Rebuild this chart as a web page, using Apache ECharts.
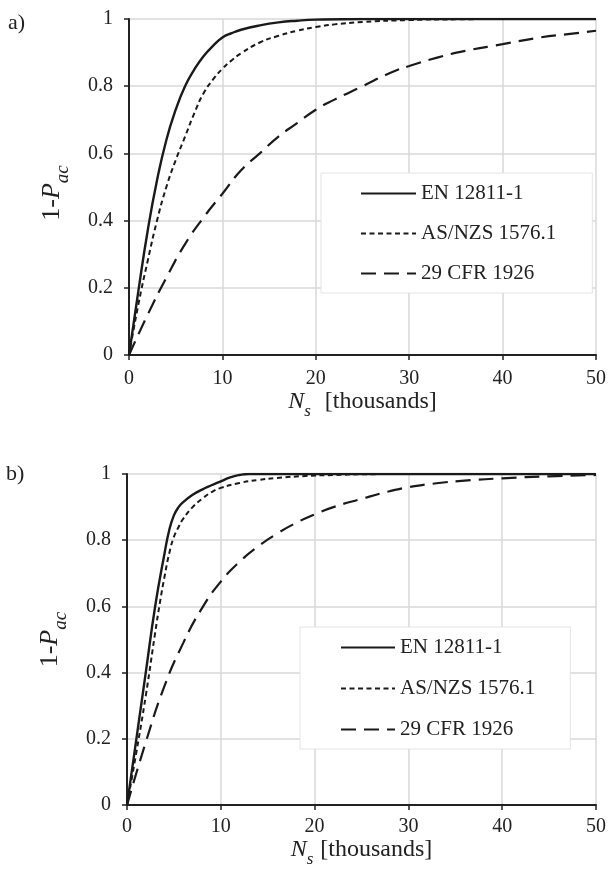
<!DOCTYPE html>
<html>
<head>
<meta charset="utf-8">
<script src="https://cdn.jsdelivr.net/npm/echarts@6/dist/echarts.min.js"></script>
<style>
  html, body { margin: 0; padding: 0; background: #fff; }
  #chart { width: 609px; height: 869px; }
</style>
</head>
<body>
<div id="chart"></div>
<script>
// series names, shared by both panels
var names = ['EN 12811-1', 'AS/NZS 1576.1', '29 CFR 1926'];

// panel a) - [N_s (thousands), 1-P_ac]
var enA = [[0, 0], [1, 0.19], [2, 0.37], [3, 0.52], [4, 0.64], [5, 0.73], [6, 0.8], [7, 0.85],
  [8, 0.89], [9, 0.92], [10, 0.945], [11, 0.958], [12, 0.968], [14, 0.981], [16, 0.99],
  [18, 0.995], [20, 0.998], [25, 1], [50, 1]];
var asA = [[0, 0], [1, 0.15], [2, 0.28], [3, 0.4], [4, 0.5], [5, 0.58], [6, 0.65], [7, 0.72],
  [8, 0.78], [9, 0.82], [10, 0.852], [11, 0.877], [12, 0.898], [14, 0.93], [16, 0.95],
  [18, 0.965], [20, 0.976], [22, 0.984], [25, 0.991], [30, 0.997], [35, 0.999], [40, 1], [50, 1]];
var cfrA = [[0, 0], [2, 0.12], [4, 0.23], [6, 0.33], [8, 0.41], [10, 0.48], [12, 0.55], [14, 0.6],
  [16, 0.65], [18, 0.69], [20, 0.73], [22, 0.76], [25, 0.8], [28, 0.84], [30, 0.86],
  [33, 0.885], [36, 0.905], [40, 0.925], [44, 0.945], [47, 0.955], [50, 0.965]];

// panel b)
var enB = [[0, 0], [1, 0.2], [2, 0.4], [3, 0.6], [4, 0.76], [4.5, 0.83], [5, 0.875], [5.5, 0.9],
  [6, 0.915], [7, 0.937], [8, 0.953], [9, 0.966], [10, 0.978], [11, 0.99], [12, 0.997],
  [13, 1], [50, 1]];
var asB = [[0, 0], [1, 0.16], [2, 0.33], [3, 0.52], [3.5, 0.61], [4, 0.69], [4.5, 0.76], [5, 0.81],
  [5.5, 0.84], [6, 0.865], [7, 0.9], [8, 0.925], [9, 0.945], [10, 0.958], [12, 0.973],
  [14, 0.982], [16, 0.988], [19, 0.994], [22, 0.997], [25, 0.999], [30, 1], [50, 1]];
var cfrB = [[0, 0], [2, 0.19], [4, 0.36], [6, 0.49], [8, 0.595], [10, 0.675], [12, 0.735],
  [14, 0.782], [16, 0.82], [18, 0.852], [20, 0.878], [22, 0.9], [25, 0.925], [28, 0.948],
  [30, 0.96], [33, 0.972], [36, 0.98], [40, 0.987], [45, 0.993], [50, 0.997]];

var FONT = "'Liberation Serif', 'Times New Roman', serif";
var INK = '#222';

var styles = [
  {width: 2.4, type: 'solid'},
  {width: 2, type: [5, 3.5]},
  {width: 2.2, type: [15, 8]}
];

function xAxis(gridIndex, gap, margin, space) {
  return {
    type: 'value', gridIndex: gridIndex, min: 0, max: 50, interval: 10,
    name: '{i|N}{s|s}{t|[thousands]}',
    nameLocation: 'middle', nameGap: gap,
    nameTextStyle: {
      rich: {
        i: {fontFamily: FONT, fontSize: 24, fontStyle: 'italic', color: INK, verticalAlign: 'bottom', padding: [0, 0, 6, 0]},
        s: {fontFamily: FONT, fontSize: 17, fontStyle: 'italic', color: INK, verticalAlign: 'bottom', padding: [0, space, 0, 0]},
        t: {fontFamily: FONT, fontSize: 24, color: INK, verticalAlign: 'bottom', padding: [0, 0, 6, 0]}
      }
    },
    axisLine: {lineStyle: {color: INK, width: 2}},
    axisTick: {show: true, length: 5, lineStyle: {color: INK, width: 1.5}},
    axisLabel: {fontFamily: FONT, fontSize: 20, color: INK, margin: margin},
    splitLine: {show: true, lineStyle: {color: '#d9d9d9', width: 1.5}}
  };
}

function yAxis(gridIndex, gap, shift) {
  return {
    type: 'value', gridIndex: gridIndex, min: 0, max: 1, interval: 0.2,
    name: '{t|1-}{i|P}{s|ac}',
    nameLocation: 'middle', nameGap: gap, nameRotate: 90,
    nameTextStyle: {
      rich: {
        t: {fontFamily: FONT, fontSize: 26, color: INK, verticalAlign: 'bottom', padding: [0, 0, 7, 0]},
        i: {fontFamily: FONT, fontSize: 26, fontStyle: 'italic', color: INK, verticalAlign: 'bottom', padding: [0, 0, 7, 0]},
        s: {fontFamily: FONT, fontSize: 19, fontStyle: 'italic', color: INK, verticalAlign: 'bottom', padding: [0, shift, 0, 0]}
      }
    },
    axisLine: {show: true, lineStyle: {color: INK, width: 2}},
    axisTick: {show: true, length: 5, lineStyle: {color: INK, width: 1.5}},
    axisLabel: {fontFamily: FONT, fontSize: 20, color: INK, margin: 16},
    splitLine: {show: true, lineStyle: {color: '#d9d9d9', width: 1.5}}
  };
}

function legend(left, top, iconW, gap, pad) {
  return {
    orient: 'vertical', left: left, top: top,
    data: names,
    itemWidth: iconW, itemHeight: 20, itemGap: gap,
    padding: pad,
    backgroundColor: '#fff', borderColor: '#e4e4e4', borderWidth: 1,
    // hide the marker the line series puts in the middle of its legend icon
    itemStyle: {opacity: 0},
    textStyle: {fontFamily: FONT, fontSize: 21, color: INK, lineHeight: 20}
  };
}

function series(name, idx, data, style) {
  return {
    name: name, type: 'line', xAxisIndex: idx, yAxisIndex: idx,
    data: data, symbol: 'none', smooth: 0.5,
    lineStyle: {color: '#1a1a1a', width: style.width, type: style.type},
    itemStyle: {color: '#1a1a1a'},
    animation: false
  };
}

var chart = echarts.init(document.getElementById('chart'), null, {renderer: 'canvas'});
chart.setOption({
  backgroundColor: '#fff',
  animation: false,
  grid: [
    {left: 129, top: 19, width: 470, height: 336},
    {left: 127, top: 474, width: 473, height: 337}
  ],
  xAxis: [xAxis(0, 27, 14, 14), xAxis(1, 27, 12, 7)],
  yAxis: [yAxis(0, 57, 12), yAxis(1, 57, 0)],
  legend: [
    legend(321, 173, 55, 19, [10, 36, 9, 39]),
    legend(300, 627, 54, 20, [10, 35, 9, 40])
  ],
  graphic: [
    {type: 'text', left: 8, top: 12, style: {text: 'a)', font: '22px ' + FONT, fill: INK}},
    {type: 'text', left: 6, top: 463, style: {text: 'b)', font: '22px ' + FONT, fill: INK}}
  ],
  series: [
    series(names[0], 0, enA, styles[0]),
    series(names[1], 0, asA, styles[1]),
    series(names[2], 0, cfrA, styles[2]),
    series(names[0], 1, enB, styles[0]),
    series(names[1], 1, asB, styles[1]),
    series(names[2], 1, cfrB, styles[2])
  ]
});
</script>
</body>
</html>
